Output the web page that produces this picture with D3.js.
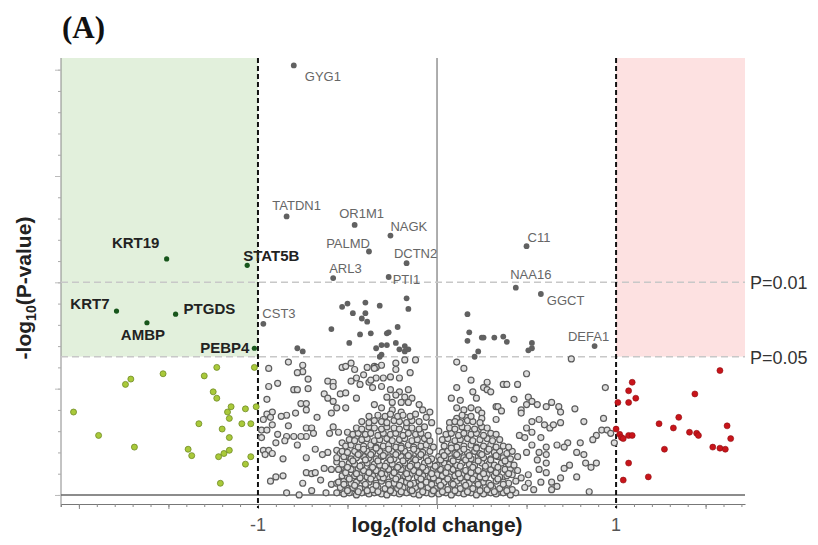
<!DOCTYPE html>
<html>
<head>
<meta charset="utf-8">
<script src="https://cdn.jsdelivr.net/npm/d3@7"></script>
<style>
  body { margin: 0; background: #fff; }
  text { font-family: "Liberation Sans", Arial, sans-serif; }
</style>
</head>
<body>
<div id="volcano"></div>
<script>
// log2 fold change / -log10(p) values

// not significant (open grey circles) - sparse part
var nsSparse = [
  [-0.83,1.25],[-0.75,1.22],[-0.94,1.19],[-0.75,1.16],[-0.78,1.15],[-0.89,1.05],[-0.72,1.09],[-0.94,1.02],
  [-0.80,0.99],[-0.78,0.99],[-0.72,1.00],[-0.61,1.07],[-0.58,1.06],[-0.58,1.02],[-0.63,0.95],[-0.61,0.91],
  [-0.95,0.90],[-0.76,0.86],[-0.73,0.86],[-0.73,0.80],[-0.58,0.88],[-0.54,0.95],[-0.51,0.96],[-0.53,1.20],
  [-0.51,1.21],[-0.48,1.24],[-0.46,1.18],[-0.39,1.20],[-0.35,1.21],[-0.41,1.13],[-0.45,1.10],[-0.48,1.07],
  [-0.43,1.04],[-0.38,1.06],[-0.45,0.91],[-0.56,0.82],[-0.51,0.82],[-0.59,0.77],[-0.67,0.73],[-0.79,0.77],
  [-0.84,0.75],[-0.87,0.74],[-0.92,0.78],[-0.95,0.76],[-0.93,0.73],[-0.97,0.71],[-0.92,0.66],[-0.98,0.61],
  [-0.95,0.61],[-0.89,0.57],[-0.84,0.55],[-0.83,0.65],[-0.73,0.63],[-0.70,0.63],[-0.69,0.58],[-0.73,0.55],
  [-0.76,0.55],[-0.80,0.55],[-0.85,0.51],[-0.90,0.49],[-0.98,0.54],[-0.78,0.47],[-0.60,0.58],[-0.58,0.64],
  [-0.55,0.59],[-0.50,0.59],[-0.53,0.49],[-0.48,0.49],[-0.45,0.55],[-0.68,0.43],[-0.61,0.40],[-0.64,0.38],
  [-0.56,0.42],[-0.54,0.39],[-0.51,0.36],[-0.97,0.42],[-0.94,0.42],[-0.96,0.38],[-0.92,0.39],[-0.86,0.34],
  [-0.73,0.35],[-0.63,0.25],[-0.59,0.24],[-0.56,0.31],[-0.52,0.24],[-0.73,0.21],[-0.70,0.20],[-0.68,0.21],
  [-0.93,0.13],[-0.90,0.17],[-0.86,0.18],[-0.75,0.11],[-0.65,0.14],[-0.59,0.10],[-0.56,0.11],[-0.53,0.15],
  [-0.84,0.02],[-0.77,0.00],[-0.70,0.04],[-0.62,0.02],[-0.53,0.05],[-0.46,0.06],
  [-0.12,1.27],[-0.18,1.27],[-0.23,1.24],[-0.31,1.22],[-0.34,1.20],[-0.35,1.19],[-0.23,1.18],[-0.15,1.15],
  [-0.26,1.11],[-0.21,1.10],[-0.30,1.10],[-0.34,1.10],[-0.37,1.08],[0.11,1.25],[0.15,1.19],[0.19,1.08],
  [0.28,1.06],[0.11,1.01],[0.26,1.01],[0.28,0.99],[0.20,0.97],[0.08,0.91],[0.13,0.89],[0.22,0.91],
  [0.33,0.83],[0.11,0.82],[0.15,0.80],[0.19,0.82],[0.23,0.80],[-0.36,1.01],[-0.31,1.02],[-0.26,0.99],
  [-0.21,0.97],[-0.16,0.99],[-0.28,0.92],[-0.23,0.94],[-0.18,0.92],[-0.14,0.91],[-0.25,0.87],[-0.20,0.87],
  [-0.16,0.87],[-0.35,0.85],[-0.10,0.85],[-0.31,0.82],[-0.25,0.80],[-0.20,0.78],[-0.08,0.80],[-0.04,0.78],
  [-0.06,0.73],[-0.03,0.68],[0.01,0.60],[0.07,0.68],[0.11,0.72],[0.16,0.73],[0.25,0.77],[0.25,0.72],
  [0.23,0.61],[0.33,0.71],
  [0.75,1.28],[0.50,1.14],[0.37,1.04],[0.39,1.04],[0.45,1.04],[0.94,1.01],[0.30,0.97],[0.43,0.90],
  [0.51,0.92],[0.53,0.88],[0.50,0.85],[0.56,0.85],[0.61,0.83],[0.64,0.87],[0.68,0.83],[0.69,0.78],
  [0.77,0.81],[0.34,0.83],[0.36,0.79],[0.47,0.80],[0.47,0.77],[0.53,0.69],[0.57,0.71],[0.60,0.66],
  [0.63,0.63],[0.65,0.66],[0.69,0.68],[0.82,0.69],[0.93,0.72],[0.92,0.61],[0.95,0.61],[0.97,0.58],
  [0.89,0.56],[0.87,0.52],[0.80,0.49],[0.73,0.49],[0.71,0.45],[0.67,0.47],[0.53,0.59],[0.50,0.63],
  [0.46,0.56],[0.49,0.54],[0.58,0.54],[0.61,0.45],[0.53,0.47],[0.50,0.40],[0.57,0.40],[0.61,0.38],
  [0.56,0.33],[0.61,0.30],[0.57,0.24],[0.61,0.21],[0.51,0.19],[0.47,0.16],[0.51,0.11],[0.58,0.12],
  [0.64,0.12],[0.67,0.08],[0.64,0.05],[0.54,0.05],[0.49,0.07],[0.78,0.17],[0.85,0.03],[0.82,0.38],
  [0.78,0.40],[0.83,0.30],[0.86,0.26],[0.89,0.30],[0.74,0.28],[0.71,0.25],[0.69,0.16],[0.99,0.49]
];

// not significant - the dense cloud around zero
var nsDense = [
  [-0.56,0.02],[-0.52,0.01],[-0.49,0.02],[-0.45,0.00],[-0.42,0.02],[-0.38,0.01],[-0.35,0.02],[-0.31,0.01],
  [-0.28,0.00],[-0.24,0.02],[-0.21,0.01],[-0.17,0.02],[-0.13,0.01],[-0.10,0.00],[-0.06,0.02],[-0.03,0.01],
  [0.01,0.01],[0.05,0.02],[0.08,0.00],[0.12,0.02],[0.15,0.01],[0.19,0.02],[0.22,0.00],[0.26,0.01],
  [0.30,0.02],[0.33,0.01],[0.37,0.02],[0.41,0.00],[0.44,0.02],
  [-0.54,0.07],[-0.50,0.06],[-0.47,0.07],[-0.43,0.06],[-0.40,0.07],[-0.36,0.05],[-0.33,0.07],[-0.29,0.06],
  [-0.26,0.07],[-0.22,0.06],[-0.19,0.07],[-0.15,0.05],[-0.12,0.07],[-0.08,0.06],[-0.05,0.07],[-0.01,0.06],
  [0.03,0.07],[0.06,0.05],[0.10,0.07],[0.13,0.06],[0.17,0.07],[0.20,0.06],[0.24,0.07],[0.28,0.05],
  [0.31,0.07],[0.35,0.06],[0.39,0.07],[0.42,0.05],
  [-0.55,0.12],[-0.52,0.13],[-0.48,0.11],[-0.45,0.12],[-0.41,0.13],[-0.38,0.12],[-0.34,0.11],[-0.31,0.13],
  [-0.27,0.12],[-0.24,0.11],[-0.20,0.13],[-0.17,0.12],[-0.13,0.11],[-0.10,0.13],[-0.06,0.12],[-0.03,0.11],
  [0.01,0.13],[0.04,0.12],[0.08,0.11],[0.11,0.13],[0.15,0.12],[0.18,0.11],[0.22,0.13],[0.26,0.12],
  [0.29,0.11],[0.33,0.13],[0.37,0.12],[0.40,0.11],[0.44,0.13],
  [-0.53,0.18],[-0.50,0.17],[-0.46,0.18],[-0.43,0.19],[-0.39,0.17],[-0.36,0.18],[-0.32,0.17],[-0.29,0.19],
  [-0.25,0.18],[-0.22,0.17],[-0.18,0.18],[-0.15,0.19],[-0.11,0.17],[-0.08,0.18],[-0.04,0.17],[0.00,0.19],
  [0.03,0.18],[0.07,0.17],[0.10,0.18],[0.14,0.19],[0.17,0.17],[0.21,0.18],[0.24,0.17],[0.28,0.19],
  [0.32,0.18],[0.35,0.17],[0.39,0.18],[0.42,0.19],
  [-0.55,0.24],[-0.51,0.23],[-0.48,0.24],[-0.44,0.25],[-0.41,0.23],[-0.37,0.24],[-0.34,0.23],[-0.30,0.25],
  [-0.27,0.24],[-0.23,0.23],[-0.20,0.24],[-0.16,0.25],[-0.13,0.23],[-0.09,0.24],[-0.06,0.23],[-0.02,0.25],
  [0.02,0.24],[0.05,0.23],[0.09,0.24],[0.12,0.25],[0.16,0.23],[0.19,0.24],[0.23,0.23],[0.27,0.25],
  [0.30,0.24],[0.34,0.23],[0.38,0.24],[0.41,0.25],[0.45,0.23],
  [-0.53,0.29],[-0.49,0.30],[-0.46,0.29],[-0.42,0.28],[-0.39,0.30],[-0.35,0.29],[-0.32,0.28],[-0.28,0.30],
  [-0.25,0.29],[-0.21,0.28],[-0.18,0.30],[-0.14,0.29],[-0.11,0.28],[-0.07,0.30],[-0.04,0.29],[0.00,0.28],
  [0.04,0.30],[0.07,0.29],[0.11,0.28],[0.14,0.30],[0.18,0.29],[0.21,0.28],[0.25,0.30],[0.29,0.29],
  [0.32,0.28],[0.36,0.30],[0.40,0.29],[0.43,0.28],
  [-0.56,0.35],[-0.52,0.36],[-0.48,0.34],[-0.45,0.35],[-0.41,0.36],[-0.38,0.35],[-0.34,0.34],[-0.31,0.36],
  [-0.27,0.35],[-0.24,0.34],[-0.20,0.36],[-0.17,0.35],[-0.13,0.34],[-0.10,0.36],[-0.06,0.35],[-0.03,0.34],
  [0.01,0.36],[0.05,0.35],[0.08,0.34],[0.12,0.36],[0.15,0.35],[0.19,0.34],[0.23,0.36],[0.26,0.35],
  [0.30,0.34],[0.34,0.36],[0.37,0.35],[0.41,0.34],[0.45,0.36],
  [-0.53,0.41],[-0.50,0.40],[-0.46,0.41],[-0.43,0.39],[-0.39,0.41],[-0.36,0.40],[-0.32,0.41],[-0.29,0.39],
  [-0.25,0.41],[-0.22,0.40],[-0.18,0.41],[-0.15,0.39],[-0.11,0.41],[-0.08,0.40],[-0.04,0.41],[0.03,0.40],
  [0.06,0.41],[0.10,0.39],[0.13,0.41],[0.17,0.40],[0.21,0.41],[0.24,0.39],[0.28,0.41],[0.32,0.40],
  [0.35,0.41],[0.39,0.39],[0.42,0.41],
  [-0.51,0.46],[-0.48,0.47],[-0.44,0.45],[-0.41,0.46],[-0.37,0.47],[-0.34,0.45],[-0.30,0.46],[-0.27,0.47],
  [-0.23,0.45],[-0.20,0.46],[-0.16,0.47],[-0.13,0.45],[-0.09,0.46],[-0.06,0.47],[-0.02,0.45],[0.04,0.46],
  [0.08,0.47],[0.11,0.45],[0.15,0.46],[0.19,0.47],[0.22,0.45],[0.26,0.46],[0.30,0.47],[0.33,0.45],
  [0.37,0.46],[0.40,0.45],
  [-0.49,0.52],[-0.46,0.51],[-0.42,0.52],[-0.39,0.53],[-0.35,0.51],[-0.32,0.52],[-0.28,0.53],[-0.25,0.51],
  [-0.21,0.52],[-0.18,0.53],[-0.14,0.51],[-0.11,0.52],[-0.07,0.53],[-0.04,0.51],[0.03,0.52],[0.06,0.53],
  [0.10,0.51],[0.13,0.52],[0.17,0.53],[0.20,0.51],[0.24,0.52],[0.28,0.53],[0.31,0.51],[0.35,0.52],
  [-0.47,0.57],[-0.44,0.58],[-0.40,0.57],[-0.37,0.58],[-0.33,0.56],[-0.30,0.58],[-0.26,0.57],[-0.23,0.58],
  [-0.19,0.56],[-0.16,0.58],[-0.12,0.57],[-0.09,0.58],[-0.05,0.56],[0.05,0.57],[0.08,0.58],[0.12,0.56],
  [0.15,0.58],[0.19,0.57],[0.22,0.58],[0.26,0.56],[0.30,0.58],[0.33,0.57],
  [-0.45,0.63],[-0.42,0.62],[-0.38,0.64],[-0.35,0.63],[-0.31,0.62],[-0.28,0.64],[-0.24,0.63],[-0.21,0.62],
  [-0.17,0.64],[-0.14,0.63],[-0.10,0.62],[-0.07,0.64],[0.07,0.63],[0.10,0.62],[0.14,0.64],[0.17,0.63],
  [0.21,0.62],[0.25,0.64],[0.28,0.63],
  [-0.42,0.69],[-0.38,0.68],[-0.35,0.70],[-0.31,0.69],[-0.28,0.68],[-0.24,0.70],[-0.21,0.69],[-0.17,0.68],
  [-0.14,0.70],[-0.10,0.69],[0.10,0.69],[0.13,0.68],[0.17,0.70],[0.20,0.69],[0.24,0.68],
  [-0.38,0.74],[-0.33,0.75],[-0.29,0.74],[-0.26,0.76],[-0.22,0.74],[-0.19,0.75],[-0.15,0.74],[-0.12,0.76],
  [0.14,0.75],[0.19,0.74]
];

// not significant - second layer in the core of the cloud
var nsCore = [
  [-0.50,0.04],[-0.44,0.03],[-0.39,0.04],[-0.33,0.03],[-0.26,0.04],[-0.20,0.03],[-0.14,0.04],[-0.08,0.03],
  [-0.02,0.04],[0.03,0.03],[0.10,0.04],[0.17,0.03],[0.24,0.04],[0.32,0.03],[0.39,0.04],
  [-0.52,0.10],[-0.46,0.09],[-0.40,0.10],[-0.34,0.09],[-0.27,0.10],[-0.21,0.09],[-0.15,0.10],[-0.09,0.09],
  [-0.03,0.10],[0.02,0.09],[0.09,0.10],[0.16,0.09],[0.23,0.10],[0.30,0.09],[0.37,0.10],
  [-0.49,0.15],[-0.43,0.16],[-0.37,0.15],[-0.30,0.16],[-0.23,0.15],[-0.16,0.16],[-0.09,0.15],[-0.02,0.16],
  [0.06,0.15],[0.13,0.16],[0.20,0.15],[0.27,0.16],[0.34,0.15],
  [-0.51,0.21],[-0.45,0.20],[-0.38,0.21],[-0.31,0.20],[-0.24,0.21],[-0.17,0.20],[-0.10,0.21],[-0.03,0.20],
  [0.05,0.21],[0.12,0.20],[0.19,0.21],[0.26,0.20],[0.33,0.21],[0.40,0.20],
  [-0.50,0.26],[-0.43,0.27],[-0.36,0.26],[-0.29,0.27],[-0.22,0.26],[-0.15,0.27],[-0.08,0.26],[-0.01,0.27],
  [0.06,0.26],[0.13,0.27],[0.20,0.26],[0.27,0.27],[0.34,0.26],
  [-0.47,0.32],[-0.40,0.33],[-0.33,0.32],[-0.26,0.33],[-0.19,0.32],[-0.12,0.33],[-0.05,0.32],[0.02,0.33],
  [0.09,0.32],[0.16,0.33],[0.23,0.32],[0.30,0.33],[0.38,0.32],
  [-0.44,0.38],[-0.37,0.38],[-0.30,0.37],[-0.23,0.38],[-0.16,0.37],[-0.09,0.38],[0.04,0.37],[0.11,0.38],
  [0.18,0.37],[0.25,0.38],[0.33,0.37],
  [-0.41,0.43],[-0.34,0.44],[-0.27,0.43],[-0.20,0.44],[-0.13,0.43],[0.08,0.44],[0.15,0.43],[0.22,0.44],
  [0.29,0.43]
];

// p < 0.05 but |log2FC| < 1 (filled dark grey)
var sigNames = ["GYG1","TATDN1","OR1M1","NAGK","PALMD","DCTN2","ARL3","PTI1","C11","NAA16","GGCT","DEFA1","CST3"];
var sigNamedFc = [-0.80,-0.84,-0.46,-0.26,-0.38,-0.17,-0.58,-0.27,0.50,0.44,0.58,0.88,-0.97];
var sigNamedP  = [4.04,2.62,2.54,2.44,2.29,2.18,2.04,2.05,2.34,1.95,1.89,1.40,1.61];
var sigOther = [
  [-0.59,1.56],[-0.53,1.77],[-0.50,1.80],[-0.47,1.71],[-0.40,1.81],[-0.40,1.71],[-0.42,1.66],[-0.39,1.63],
  [-0.32,1.78],[-0.17,1.85],[-0.16,1.75],[-0.22,1.58],[-0.27,1.53],[-0.28,1.52],[-0.37,1.52],[-0.43,1.51],
  [-0.49,1.43],[-0.78,1.38],[-0.75,1.35],[-0.34,1.38],[-0.31,1.41],[-0.28,1.41],[-0.23,1.43],[-0.21,1.37],
  [-0.18,1.40],[-0.18,1.35],[-0.16,1.37],[-0.31,1.32],[-0.32,1.30],
  [0.17,1.70],[0.18,1.53],[0.17,1.45],[0.25,1.48],[0.26,1.48],[0.32,1.48],[0.37,1.49],[0.39,1.44],
  [0.53,1.43],[0.53,1.38],[0.51,1.36],[0.23,1.35],[0.21,1.30]
];

// down-regulated, p < 0.05 (dark green, labelled)
var downNames = ["KRT19","STAT5B","KRT7","PTGDS","AMBP","PEBP4"];
var downFc = [-1.51,-1.06,-1.79,-1.46,-1.62,-1.02];
var downP  = [2.22,2.16,1.73,1.70,1.62,1.38];

// down-regulated, not significant (yellow green)
var downNs = [
  [-2.03,0.78],[-1.89,0.56],[-1.74,1.04],[-1.71,1.09],[-1.69,0.45],[-1.53,1.14],[-1.39,0.43],[-1.37,0.37],
  [-1.33,0.67],[-1.30,1.12],[-1.25,0.97],[-1.23,0.91],[-1.23,1.20],[-1.22,0.36],[-1.21,0.11],[-1.20,0.62],
  [-1.19,0.39],[-1.17,0.78],[-1.16,0.54],[-1.16,0.72],[-1.16,0.42],[-1.15,0.83],[-1.09,0.67],[-1.07,0.81],
  [-1.07,0.29],[-1.04,0.67],[-1.04,0.36],[-1.02,1.20],[-1.01,0.83]
];

// up-regulated, not significant (red)
var upNs = [
  [1.01,0.87],[1.00,0.62],[1.02,0.57],[1.03,0.54],[1.04,0.53],[1.07,0.56],[1.09,0.56],[1.04,0.14],
  [1.07,0.30],[1.07,0.98],[1.07,0.87],[1.09,1.06],[1.11,0.91],[1.18,0.17],[1.24,0.67],[1.27,0.43],
  [1.32,0.63],[1.35,0.73],[1.41,0.59],[1.44,0.95],[1.45,0.58],[1.46,0.56],[1.54,0.45],[1.58,1.17],
  [1.58,0.44],[1.61,0.43],[1.62,0.65],[1.64,0.53]
];

var pCutoffs = [0.01, 0.05];
var fcCutoffs = [-1, 1];
var xTickLabels = [-1, 1];

// label placement, pixels relative to the point
var labelPos = {
  GYG1: [11, 16, "start"], TATDN1: [10, -6, "middle"], OR1M1: [7, -7, "middle"], NAGK: [0, -5, "start"],
  PALMD: [1, -3, "end"], DCTN2: [9, -5, "middle"], ARL3: [-4, -5, "start"], PTI1: [4, 7, "start"],
  C11: [1, -4, "start"], NAA16: [15, -9, "middle"], GGCT: [6, 11, "start"], DEFA1: [-6, -5, "middle"],
  CST3: [-1, -6, "start"],
  KRT19: [-31, -11, "middle"], STAT5B: [-4, -4, "start"], KRT7: [-7, -2, "end"], PTGDS: [8, 0, "start"],
  AMBP: [-4, 17, "middle"], PEBP4: [-5, 5, "end"]
};

var width = 818;
var height = 545;

var svg = d3.select("#volcano")
    .append("svg")
    .attr("width", width)
    .attr("height", height);

var xScale = d3.scaleLinear().domain([-2.1, 1.72]).range([61, 745]);
var yScale = d3.scaleLinear().domain([-0.085, 4.11]).range([504, 58]);

var plotLeft = xScale.range()[0], plotRight = xScale.range()[1];
var plotTop = yScale.range()[1], plotBottom = yScale.range()[0];
var yCut = -Math.log10(pCutoffs[1]);

// shaded regions
svg.append("rect")
    .attr("x", plotLeft).attr("y", plotTop)
    .attr("width", xScale(fcCutoffs[0]) - plotLeft)
    .attr("height", yScale(yCut) - plotTop)
    .style("fill", "#e2f0dc");

svg.append("rect")
    .attr("x", xScale(fcCutoffs[1])).attr("y", plotTop)
    .attr("width", plotRight - xScale(fcCutoffs[1]))
    .attr("height", yScale(yCut) - plotTop)
    .style("fill", "#fde1e1");

// axes
svg.append("g")
    .attr("transform", "translate(0," + plotBottom + ")")
    .call(d3.axisBottom(xScale).tickValues(d3.range(-2.1, 1.75, 0.1)).tickSize(3).tickSizeOuter(0).tickFormat(""))
    .call(g => g.selectAll("line").attr("stroke", "#888"))
    .call(g => g.select(".domain").attr("stroke", "#777").attr("stroke-width", 1.2));

svg.append("g")
    .attr("transform", "translate(0," + plotBottom + ")")
    .call(d3.axisBottom(xScale).tickValues([-2, -1.5, -1, -0.5, 0, 0.5, 1, 1.5]).tickSize(5).tickFormat(""))
    .call(g => g.select(".domain").remove())
    .call(g => g.selectAll("line").attr("stroke", "#888"));

svg.append("g")
    .attr("transform", "translate(" + plotLeft + ",0)")
    .call(d3.axisLeft(yScale).tickValues(d3.range(0, 4.01, 0.2)).tickSize(3).tickSizeOuter(0).tickFormat(""))
    .call(g => g.selectAll("line").attr("stroke", "#aaa"))
    .call(g => g.select(".domain").attr("stroke", "#888").attr("d", "M0," + plotTop + "V" + (plotBottom + 3)));

svg.append("g")
    .attr("transform", "translate(" + plotLeft + ",0)")
    .call(d3.axisLeft(yScale).tickValues([0, 1, 2, 3, 4]).tickSize(6).tickFormat(""))
    .call(g => g.select(".domain").remove())
    .call(g => g.selectAll("line").attr("stroke", "#bbb"));

// zero lines
svg.append("line")
    .attr("x1", plotLeft).attr("x2", plotRight)
    .attr("y1", yScale(0)).attr("y2", yScale(0))
    .style("stroke", "#666").style("stroke-width", 1.5);

svg.append("line")
    .attr("x1", xScale(0)).attr("x2", xScale(0))
    .attr("y1", plotTop).attr("y2", plotBottom)
    .style("stroke", "#777").style("stroke-width", 1.2);

// p-value cutoff lines
svg.selectAll(".pline")
    .data(pCutoffs)
    .enter().append("line")
    .attr("class", "pline")
    .attr("x1", plotLeft).attr("x2", plotRight)
    .attr("y1", d => yScale(-Math.log10(d)))
    .attr("y2", d => yScale(-Math.log10(d)))
    .style("stroke", "#c8c8c8").style("stroke-width", 1.5)
    .style("stroke-dasharray", "7,4");

svg.selectAll(".plabel")
    .data(pCutoffs)
    .enter().append("text")
    .attr("class", "plabel")
    .attr("x", plotRight + 5)
    .attr("y", d => yScale(-Math.log10(d)) + 7)
    .style("font-size", "18px")
    .style("fill", "#333")
    .text(d => "P=" + d);

// fold change cutoff lines
svg.selectAll(".fcline")
    .data(fcCutoffs)
    .enter().append("line")
    .attr("class", "fcline")
    .attr("x1", d => xScale(d)).attr("x2", d => xScale(d))
    .attr("y1", plotTop).attr("y2", plotBottom + 4)
    .style("stroke", "#111").style("stroke-width", 2)
    .style("stroke-dasharray", "5,3");

// points
svg.selectAll(".ns")
    .data(nsSparse.concat(nsDense, nsCore))
    .enter().append("circle")
    .attr("class", "ns")
    .attr("cx", d => xScale(d[0]))
    .attr("cy", d => yScale(d[1]))
    .attr("r", 3)
    .style("fill", "#dedede")
    .style("stroke", "#5c5c5c")
    .style("stroke-width", 1.2);

svg.selectAll(".downns")
    .data(downNs)
    .enter().append("circle")
    .attr("cx", d => xScale(d[0]))
    .attr("cy", d => yScale(d[1]))
    .attr("r", 3)
    .style("fill", "#a9c93a")
    .style("stroke", "#6f8a25")
    .style("stroke-width", 0.8);

svg.selectAll(".upns")
    .data(upNs)
    .enter().append("circle")
    .attr("cx", d => xScale(d[0]))
    .attr("cy", d => yScale(d[1]))
    .attr("r", 3)
    .style("fill", "#c8141a")
    .style("stroke", "#8e0d10")
    .style("stroke-width", 0.6);

svg.selectAll(".sig")
    .data(sigOther)
    .enter().append("circle")
    .attr("cx", d => xScale(d[0]))
    .attr("cy", d => yScale(d[1]))
    .attr("r", 2.9)
    .style("fill", "#616161");

var sigNamed = sigNames.map((n, i) => ({ name: n, fc: sigNamedFc[i], p: sigNamedP[i] }));
var downNamed = downNames.map((n, i) => ({ name: n, fc: downFc[i], p: downP[i] }));

svg.selectAll(".signamed")
    .data(sigNamed)
    .enter().append("circle")
    .attr("cx", d => xScale(d.fc))
    .attr("cy", d => yScale(d.p))
    .attr("r", 2.9)
    .style("fill", "#616161");

svg.selectAll(".siglabel")
    .data(sigNamed)
    .enter().append("text")
    .attr("x", d => xScale(d.fc) + labelPos[d.name][0])
    .attr("y", d => yScale(d.p) + labelPos[d.name][1])
    .style("text-anchor", d => labelPos[d.name][2])
    .style("font-size", "13px")
    .style("fill", "#666")
    .text(d => d.name);

svg.selectAll(".down")
    .data(downNamed)
    .enter().append("circle")
    .attr("cx", d => xScale(d.fc))
    .attr("cy", d => yScale(d.p))
    .attr("r", 2.6)
    .style("fill", "#17561b");

svg.selectAll(".downlabel")
    .data(downNamed)
    .enter().append("text")
    .attr("x", d => xScale(d.fc) + labelPos[d.name][0])
    .attr("y", d => yScale(d.p) + labelPos[d.name][1])
    .style("text-anchor", d => labelPos[d.name][2])
    .style("font-size", "15px")
    .style("font-weight", "bold")
    .style("fill", "#222")
    .text(d => d.name);

// tick labels
svg.selectAll(".xtick")
    .data(xTickLabels)
    .enter().append("text")
    .attr("x", d => xScale(d))
    .attr("y", 531)
    .style("text-anchor", "middle")
    .style("font-size", "18px")
    .style("fill", "#555")
    .text(d => d);

// axis titles and panel letter
var xt = svg.append("text")
    .attr("x", xScale(0))
    .attr("y", 532)
    .style("text-anchor", "middle")
    .style("font-size", "21px")
    .style("font-weight", "bold")
    .style("fill", "#222");
xt.append("tspan").text("log");
xt.append("tspan").attr("dy", 5).style("font-size", "14px").text("2");
xt.append("tspan").attr("dy", -5).text("(fold change)");

var yt = svg.append("text")
    .attr("transform", "translate(31,288) rotate(-90)")
    .style("text-anchor", "middle")
    .style("font-size", "21px")
    .style("font-weight", "bold")
    .style("fill", "#222");
yt.append("tspan").text("-log");
yt.append("tspan").attr("dy", 5).style("font-size", "14px").text("10");
yt.append("tspan").attr("dy", -5).text("(P-value)");

svg.append("text")
    .attr("x", 62)
    .attr("y", 38)
    .style("font-family", "'Liberation Serif', 'Times New Roman', serif")
    .style("font-size", "31px")
    .style("font-weight", "bold")
    .style("fill", "#111")
    .text("(A)");
</script>
</body>
</html>
